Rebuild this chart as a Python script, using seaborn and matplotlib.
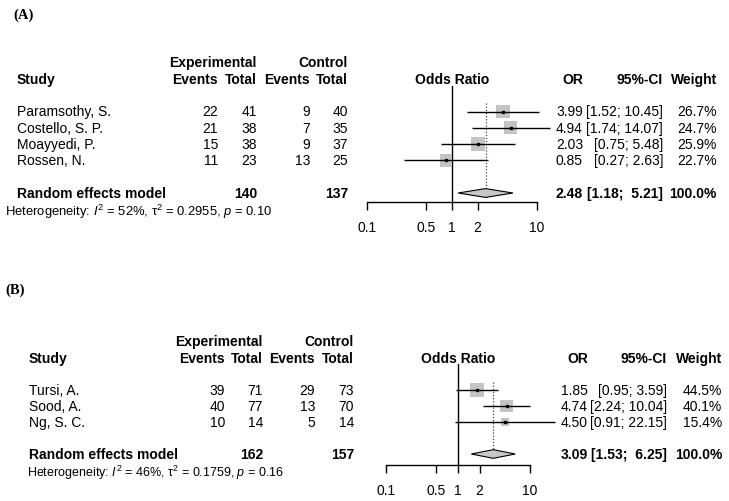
import matplotlib
matplotlib.use("Agg")
import numpy as np
import seaborn as sns
from matplotlib import pyplot as plt
from matplotlib import transforms
from matplotlib.ticker import NullLocator

# ---- panel A data ----
studies_a = ["Paramsothy, S.", "Costello, S. P.", "Moayyedi, P.", "Rossen, N."]
exp_events_a = [22, 21, 15, 11]
exp_total_a = [41, 38, 38, 23]
ctrl_events_a = [9, 7, 9, 13]
ctrl_total_a = [40, 35, 37, 25]
or_a = [3.99, 4.94, 2.03, 0.85]
lower_a = [1.52, 1.74, 0.75, 0.27]
upper_a = [10.45, 14.07, 5.48, 2.63]
weight_a = [26.7, 24.7, 25.9, 22.7]
pooled_a = [2.48, 1.18, 5.21]
het_a = r"Heterogeneity: $I^2$ = 52%, τ$^2$ = 0.2955, $p$ = 0.10"

# ---- panel B data ----
studies_b = ["Tursi, A.", "Sood, A.", "Ng, S. C."]
exp_events_b = [39, 40, 10]
exp_total_b = [71, 77, 14]
ctrl_events_b = [29, 13, 5]
ctrl_total_b = [73, 70, 14]
or_b = [1.85, 4.74, 4.50]
lower_b = [0.95, 2.24, 0.91]
upper_b = [3.59, 10.04, 22.15]
weight_b = [44.5, 40.1, 15.4]
pooled_b = [3.09, 1.53, 6.25]
het_b = r"Heterogeneity: $I^2$ = 46%, τ$^2$ = 0.1759, $p$ = 0.16"

ticks = [0.1, 0.5, 1, 2, 10]
tick_labels = ["0.1", "0.5", "1", "2", "10"]

W, H = 729, 502

sns.set_style("ticks")
plt.rcParams['font.family'] = ['Liberation Sans', 'DejaVu Sans']
plt.rcParams['text.color'] = 'black'
plt.rcParams['mathtext.fontset'] = 'custom'
plt.rcParams['mathtext.rm'] = 'Liberation Sans'
plt.rcParams['mathtext.it'] = 'Liberation Sans:italic'
plt.rcParams['mathtext.bf'] = 'Liberation Sans:bold'


def forest(fig, label, studies, exp_ev, exp_tot, ctl_ev, ctl_tot, odds, lo, hi, weight, pooled, het, lay):
    n = len(studies)
    rows = np.arange(n)
    re_row = n + 1
    fs = 10

    left, right, top, bottom = lay['axes']
    y0, dy = lay['rows']
    ax = fig.add_axes([left / W, 1 - bottom / H, (right - left) / W, (bottom - top) / H])
    ax.set_xscale('log')

    # CI lines, squares, centre points
    ax.hlines(rows, lo, hi, color='black', lw=1.0, clip_on=False, zorder=3)
    sns.scatterplot(x=odds, y=rows, size=weight, sizes=(0, 95), size_norm=(0, max(weight)),
                    marker='s', color='#c4c4c4', edgecolor='none', legend=False, ax=ax,
                    zorder=2, clip_on=False)
    ax.plot(odds, rows, 's', ms=1.6, color='black', zorder=4, clip_on=False)

    # pooled diamond + reference lines
    p, plo, phi = pooled
    h = 0.27
    ax.fill([plo, p, phi, p], [re_row, re_row - h, re_row, re_row + h],
            facecolor='#c8c8c8', edgecolor='black', lw=0.8, zorder=3)
    ax.axvline(1, color='black', lw=1.0, zorder=1)
    ax.vlines(p, -0.5, re_row, color='#444444', lw=0.9, linestyles=(0, (1, 1.5)), zorder=1)

    ax.set_xlim(0.1, 10)
    ax.set_ylim((bottom - y0) / dy, (top - y0) / dy)
    for s in ['left', 'top', 'right']:
        ax.spines[s].set_visible(False)
    ax.spines['bottom'].set_bounds(0.1, 10)
    ax.spines['bottom'].set_linewidth(1.0)
    ax.spines['bottom'].set_color('black')
    ax.set_xticks(ticks)
    ax.set_xticklabels(tick_labels)
    ax.xaxis.set_minor_locator(NullLocator())
    ax.set_yticks([])
    ax.set_xlabel('')
    ax.set_ylabel('')
    ax.tick_params(axis='x', bottom=True, direction='out', length=5.8, width=1.0,
                   pad=7.5, labelsize=fs, colors='black')

    tr = transforms.blended_transform_factory(fig.transFigure, ax.transData)

    def put(px, row, s, ha='right', bold=False, size=fs):
        ax.text(px / W, row, s, transform=tr, ha=ha, va='center', fontsize=size,
                fontweight='bold' if bold else 'normal', color='black')

    sx = lay['study_x']
    c1, c2, c3, c4 = lay['cols']
    r1, r2, r3 = lay['right']

    # header
    put(c2, -3.05, "Experimental", bold=True)
    put(c4, -3.05, "Control", bold=True)
    put(sx, -2, "Study", ha='left', bold=True)
    for cx, t in zip(lay['cols'], ["Events", "Total", "Events", "Total"]):
        put(cx, -2, t, bold=True)
    ax.text(1, -2, "Odds Ratio", ha='center', va='center', fontsize=fs,
            fontweight='bold', color='black')
    put(r1, -2, "OR", bold=True)
    put(r2, -2, "95%-CI", bold=True)
    put(r3, -2, "Weight", bold=True)

    # study rows
    for i in range(n):
        put(sx, i, studies[i], ha='left')
        put(c1, i, str(exp_ev[i]))
        put(c2, i, str(exp_tot[i]))
        put(c3, i, str(ctl_ev[i]))
        put(c4, i, str(ctl_tot[i]))
        put(r1, i, f"{odds[i]:.2f}")
        put(r2, i, f"[{lo[i]:.2f}; {hi[i]:.2f}]")
        put(r3, i, f"{weight[i]:.1f}%")

    # pooled row
    put(sx, re_row, "Random effects model", ha='left', bold=True)
    put(c2, re_row, str(sum(exp_tot)), bold=True)
    put(c4, re_row, str(sum(ctl_tot)), bold=True)
    put(r1, re_row, f"{p:.2f}", bold=True)
    put(r2, re_row, f"[{plo:.2f}; {phi:5.2f}]", bold=True)
    put(r3, re_row, "100.0%", bold=True)
    put(lay['het_x'], re_row + 1.1, het, ha='left', size=lay['het_fs'])

    lx, ly = lay['label']
    fig.text(lx / W, 1 - ly / H, label, ha='left', va='center', fontsize=10.5,
             fontweight='bold', family='Liberation Serif', color='black')
    return ax


fig = plt.figure(figsize=(7.29, 5.02), dpi=100)
fig.patch.set_facecolor('white')

forest(fig, "(A)", studies_a, exp_events_a, exp_total_a, ctrl_events_a, ctrl_total_a,
       or_a, lower_a, upper_a, weight_a, pooled_a, het_a,
       {'axes': (367, 537, 87, 202.5), 'rows': (112.5, 16.3), 'study_x': 17,
        'cols': (218, 257, 310, 348), 'right': (583, 663, 717), 'het_x': 5, 'het_fs': 9.4,
        'label': (13, 15)})

forest(fig, "(B)", studies_b, exp_events_b, exp_total_b, ctrl_events_b, ctrl_total_b,
       or_b, lower_b, upper_b, weight_b, pooled_b, het_b,
       {'axes': (386, 530, 365, 466), 'rows': (391, 16.0), 'study_x': 29,
        'cols': (225, 263, 315, 354), 'right': (588, 667, 722), 'het_x': 27, 'het_fs': 9.0,
        'label': (5, 290)})

fig.savefig("out.png", dpi=100, facecolor='white')
